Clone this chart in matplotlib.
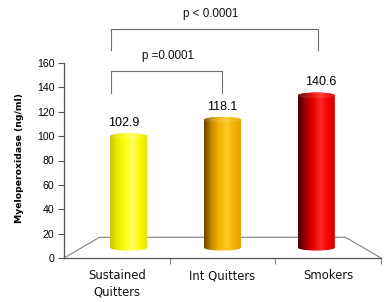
import numpy as np
import matplotlib
matplotlib.use("Agg")
import matplotlib.pyplot as plt
from matplotlib.path import Path
from matplotlib.patches import PathPatch, Ellipse
from matplotlib.colors import to_rgb

# ---- data ----
categories = ["Sustained\nQuitters", "Int Quitters", "Smokers"]
values = [102.9, 118.1, 140.6]
value_labels = ["102.9", "118.1", "140.6"]
yticks = [0, 20, 40, 60, 80, 100, 120, 140, 160]
ylabel = "Myeloperoxidase (ng/ml)"
comparisons = [  # (left x, right x, bar-level y, top y, text)
    (0.445, 2.404, 170.7, 188.0, "p < 0.0001"),
    (0.445, 1.495, 135.4, 153.4, "p =0.0001"),
]
comp_text_pos = [(1.39, 200.0), (0.984, 165.5)]

# colour stops for cylinder shading (left -> right)
grad_stops = [
    ["#c4c400", "#ecec00", "#ffff10", "#ffff60", "#f8f800", "#e0e000"],
    ["#6a4400", "#c88a00", "#f2b400", "#ffc828", "#f4b200", "#dca000"],
    ["#4a0000", "#a00000", "#e80000", "#ff2828", "#f40000", "#d00000"],
]

# ---- perspective helpers (3-D look) ----
VX, VY = 1.5, 76.0     # vanishing point in data coords
S_BAR = 0.888          # depth plane of bars
S_BACK = 0.776         # back edge of the floor
S_LABEL = 0.93


def proj(x, y, s):
    return VX + s * (x - VX), VY + s * (y - VY)


fig = plt.figure(figsize=(3.92, 3.02), dpi=100)
ax = fig.add_axes([64 / 392, 44 / 302, 317 / 392, 195 / 302])
ax.set_xlim(0, 3)
ax.set_ylim(0, 160)

for sp in ["top", "right"]:
    ax.spines[sp].set_visible(False)
for sp in ["left", "bottom"]:
    ax.spines[sp].set_color("#555555")
    ax.spines[sp].set_linewidth(0.9)

ax.set_yticks(yticks)
ax.set_yticklabels([str(t) for t in yticks], fontsize=7.6, family="Liberation Sans", color="#000000")
ax.tick_params(axis="y", length=4, width=0.8, color="#555555", pad=3)
ax.set_xticks([1, 2, 3])
ax.set_xticklabels(["", "", ""])
ax.tick_params(axis="x", which="major", length=4, width=0.8, color="#888888")
ax.set_xticks([0.5, 1.5, 2.5], minor=True)
ax.set_xticklabels(categories, minor=True, fontsize=8.4, family="DejaVu Sans", color="#111111",
                   linespacing=1.3)
ax.tick_params(axis="x", which="minor", length=0, pad=8)

fig.text(20 / 392, 1 - 158.5 / 302, ylabel, rotation=90, ha="center", va="center",
         fontsize=6.7, family="DejaVu Sans", color="#000000", weight="bold")

# floor
bl = proj(0, 0, S_BACK)
br = proj(3, 0, S_BACK)
ax.plot([0, bl[0], br[0], 3], [0, bl[1], br[1], 0], color="#808080", lw=0.8,
        zorder=1, clip_on=False)

# cylinders
eh = 2.4  # half-height of the ellipse caps (data units)
bar_w = 0.395
for i, (v, stops) in enumerate(zip(values, grad_stops)):
    xc = i + 0.5
    xl, yb = proj(xc - bar_w / 2, 0, S_BAR)
    xr, yt = proj(xc + bar_w / 2, v, S_BAR)
    w = xr - xl
    cx = (xl + xr) / 2
    t = np.linspace(np.pi, 2 * np.pi, 40)
    bottom_arc = np.column_stack([cx + (w / 2) * np.cos(t), yb + eh * np.sin(t)])
    t2 = np.linspace(0, np.pi, 40)
    top_arc = np.column_stack([cx + (w / 2) * np.cos(t2), yt + eh * np.sin(t2)])
    verts = np.vstack([[[xl, yt]], bottom_arc, [[xr, yt]], top_arc, [[xl, yt]]])
    path = Path(verts)
    patch = PathPatch(path, facecolor="none", edgecolor="none", zorder=3)
    ax.add_patch(patch)
    cols = np.array([to_rgb(c) for c in stops])
    pos = np.linspace(0, 1, len(stops))
    u = np.linspace(0, 1, 200)
    grad = np.column_stack([np.interp(u, pos, cols[:, k]) for k in range(3)])
    img = ax.imshow(grad[np.newaxis, :, :], extent=(xl, xr, yb - eh, yt + eh),
                    aspect="auto", zorder=3, interpolation="bilinear")
    img.set_clip_path(patch)
    # top cap slightly lighter
    light = grad * 0.9 + 0.1
    cap = Ellipse((cx, yt), w, 2 * eh, facecolor="none", edgecolor="none", zorder=4)
    ax.add_patch(cap)
    img2 = ax.imshow(light[np.newaxis, :, :], extent=(xl, xr, yt - eh, yt + eh),
                     aspect="auto", zorder=4, interpolation="bilinear")
    img2.set_clip_path(cap)
    lx, _ = proj(xc, v, S_LABEL)
    ax.annotate(value_labels[i], xy=(lx, yt + eh), xytext=(0, 3), textcoords="offset points",
                ha="center", va="bottom", fontsize=9, family="Liberation Sans",
                color="#000000", zorder=5)

ax.set_xlim(0, 3)
ax.set_ylim(0, 160)

# significance brackets
for (x0, x1, ylo, yhi, txt), (tx, ty) in zip(comparisons, comp_text_pos):
    ax.plot([x0, x0, x1, x1], [ylo, yhi, yhi, ylo], color="#707070", lw=0.8, clip_on=False)
    ax.text(tx, ty, txt, ha="center", va="center", fontsize=8.4, family="Liberation Sans",
            color="#111111", clip_on=False)

fig.savefig("out.png", dpi=100)
